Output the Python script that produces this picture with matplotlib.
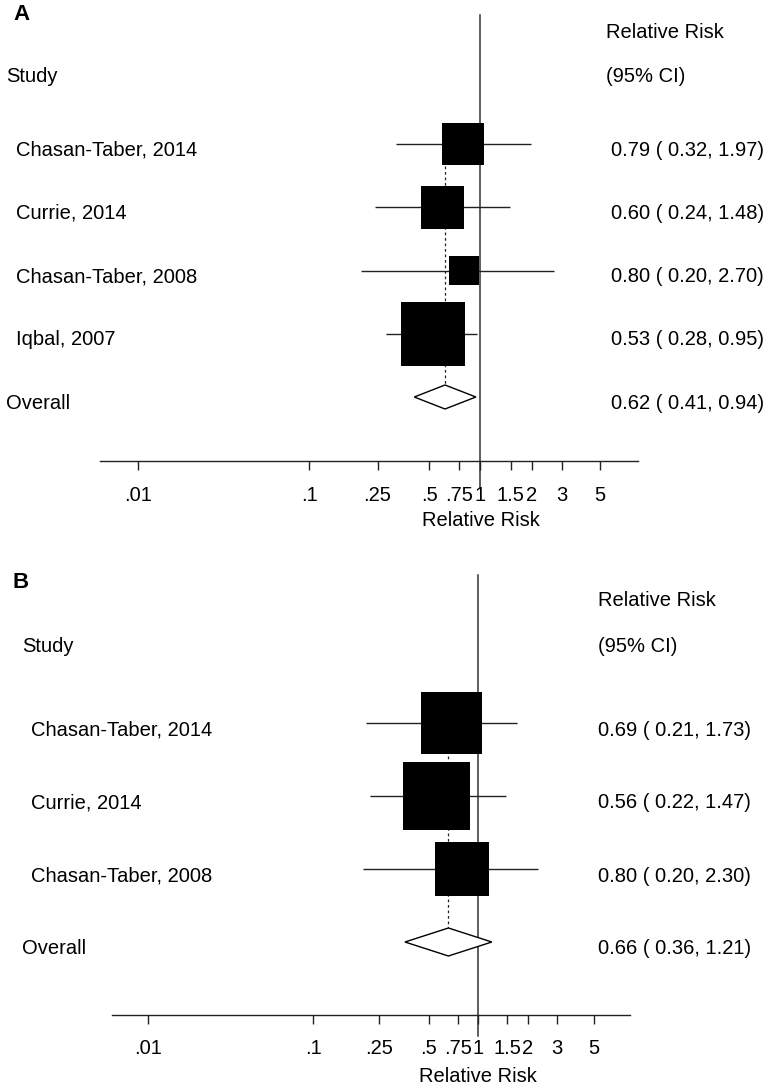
import matplotlib
matplotlib.use("Agg")
import matplotlib.pyplot as plt
import matplotlib.transforms as mtransforms
from matplotlib.patches import Polygon

plt.rcParams['font.family'] = ['Liberation Sans', 'DejaVu Sans']

# ---------------- data ----------------
studies_a = ["Chasan-Taber, 2014", "Currie, 2014", "Chasan-Taber, 2008", "Iqbal, 2007"]
rr_a = [0.79, 0.60, 0.80, 0.53]
lo_a = [0.32, 0.24, 0.20, 0.28]
hi_a = [1.97, 1.48, 2.70, 0.95]
weight_a = [21.3, 21.3, 10.4, 47.1]
overall_a = [0.62, 0.41, 0.94]

studies_b = ["Chasan-Taber, 2014", "Currie, 2014", "Chasan-Taber, 2008"]
rr_b = [0.69, 0.56, 0.80]
lo_b = [0.21, 0.22, 0.20]
hi_b = [1.73, 1.47, 2.30]
weight_b = [33.4, 40.3, 26.2]
overall_b = [0.66, 0.36, 1.21]

tick_vals = [0.01, 0.1, 0.25, 0.5, 0.75, 1, 1.5, 2, 3, 5]
tick_labels = [".01", ".1", ".25", ".5", ".75", "1", "1.5", "2", "3", "5"]

W, H, DPI = 767, 1091, 100
fig = plt.figure(figsize=(W / DPI, H / DPI), dpi=DPI)

FS = 14.5
LC = "#222222"


def fmt(r, l, h):
    return f"{r:.2f} ( {l:.2f}, {h:.2f})"


def panel(letter, studies, rr, lo, hi, weight, overall, lay):
    left, right, top_px, row0, step, axis_px = (lay['left'], lay['right'], lay['top'],
                                                 lay['row0'], lay['step'], lay['axis'])
    ax = fig.add_axes([left / W, 1 - axis_px / H, (right - left) / W, (axis_px - top_px) / H])
    ax.set_xscale('log')
    ax.set_xlim(lay['xlim'])
    ylo = (top_px - row0) / step
    yhi = (axis_px - row0) / step
    ax.set_ylim(yhi, ylo)
    for s in ['left', 'right', 'top']:
        ax.spines[s].set_visible(False)
    ax.spines['bottom'].set_color(LC)
    ax.spines['bottom'].set_linewidth(1.0)
    ax.set_yticks([])
    ax.set_xticks(tick_vals)
    ax.set_xticklabels(tick_labels, fontsize=FS)
    ax.minorticks_off()
    ax.tick_params(axis='x', direction='out', length=6.5, width=1.0, color=LC,
                   pad=lay['pad'])
    ax.patch.set_alpha(0)

    n = len(studies)
    rows = list(range(n))
    orow = n

    # reference line at 1
    ax.plot([1, 1], [(lay['vtop'] - row0) / step, (lay['vbot'] - row0) / step],
            color="#333333", lw=1.1, clip_on=False, zorder=1)

    # dashed line at overall estimate
    ax.plot([overall[0], overall[0]], [0, orow + 0.12], color="#222222", lw=0.9,
            ls=(0, (2.2, 2.2)), zorder=2)

    # CI lines
    for r, l, h in zip(rows, lo, hi):
        ax.plot([l, h], [r, r], color=LC, lw=1.0, zorder=2, solid_capstyle='butt')

    # boxes (area proportional to weight)
    sides = [lay['kbox'] * (w ** 0.5) for w in weight]  # px
    ax.scatter(rr, rows, marker='s', s=[(sd * 72 / DPI) ** 2 for sd in sides],
               color='black', linewidths=0, zorder=3)

    # diamond
    dh = lay['dh'] / step
    est, dl, dhi = overall
    ax.add_patch(Polygon([(dl, orow), (est, orow - dh), (dhi, orow), (est, orow + dh)],
                         closed=True, facecolor='white', edgecolor='black', lw=1.0,
                         zorder=3))

    # text columns: x in pixels, y in data rows
    tx = mtransforms.blended_transform_factory(fig.dpi_scale_trans, ax.transData)
    tx = mtransforms.offset_copy(tx, fig=fig, x=0, y=-lay['toff'], units='dots')
    for r, name, a, b, c in zip(rows, studies, rr, lo, hi):
        ax.text(lay['xs'] / DPI, r, name, transform=tx, fontsize=FS, va='center', ha='left')
        ax.text(lay['xv'] / DPI, r, fmt(a, b, c), transform=tx, fontsize=FS,
                va='center', ha='left')
    ax.text(lay['xo'] / DPI, orow, "Overall", transform=tx, fontsize=FS, va='center', ha='left')
    ax.text(lay['xv'] / DPI, orow, fmt(*overall), transform=tx, fontsize=FS,
            va='center', ha='left')

    # headers
    fig.text(lay['xo'] / W, 1 - lay['h2'] / H, "Study", fontsize=FS, va='center', ha='left')
    fig.text(lay['xh'] / W, 1 - lay['h1'] / H, "Relative Risk", fontsize=FS, va='center', ha='left')
    fig.text(lay['xh'] / W, 1 - lay['h2'] / H, "(95% CI)", fontsize=FS, va='center', ha='left')
    fig.text(13 / W, 1 - lay['lab'] / H, letter, fontsize=16, fontweight='bold',
             va='center', ha='left')

    # x label
    xl = mtransforms.blended_transform_factory(ax.transData, ax.transAxes)
    xl = mtransforms.offset_copy(xl, fig=fig, x=0, y=-lay['xlab'], units='dots')
    ax.text(1.0, 0, "Relative Risk", transform=xl, fontsize=FS, ha='center', va='center')
    return ax


lay_a = dict(left=100, right=638, top=0, row0=144, step=63.25, axis=461,
             xlim=(10 ** -2.225, 10 ** 0.921), pad=11.5, vtop=15, vbot=488,
             kbox=9.3, dh=12, toff=6, xs=16, xv=611, xo=6, xh=606, h1=33, h2=76,
             lab=15, xlab=59)
lay_b = dict(left=112, right=630, top=560, row0=723, step=73.0, axis=1015,
             xlim=(10 ** -2.219, 10 ** 0.92), pad=10.8, vtop=575, vbot=1036,
             kbox=10.6, dh=14, toff=7, xs=31, xv=598, xo=22, xh=598, h1=600, h2=646,
             lab=583, xlab=62)

panel("A", studies_a, rr_a, lo_a, hi_a, weight_a, overall_a, lay_a)
panel("B", studies_b, rr_b, lo_b, hi_b, weight_b, overall_b, lay_b)

fig.savefig("out.png", dpi=DPI, facecolor='white')
